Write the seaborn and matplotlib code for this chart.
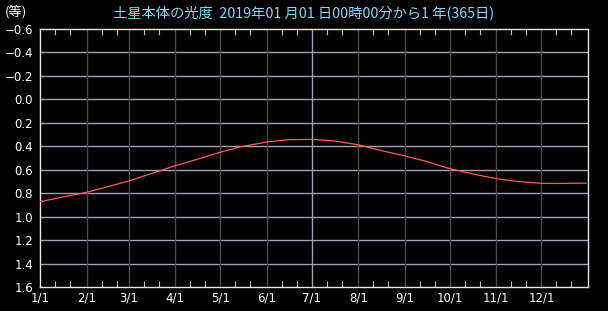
import matplotlib
matplotlib.use("Agg")
import matplotlib.pyplot as plt
import seaborn as sns
import pandas as pd
from matplotlib.ticker import FixedLocator

# data (date, magnitude)
dates = ["2019-01-01", "2019-01-15", "2019-02-01", "2019-02-15", "2019-03-01",
         "2019-03-15", "2019-04-01", "2019-04-15", "2019-05-01", "2019-05-15",
         "2019-06-01", "2019-06-15", "2019-07-01", "2019-07-15", "2019-08-01",
         "2019-08-15", "2019-09-01", "2019-09-15", "2019-10-01", "2019-10-15",
         "2019-11-01", "2019-11-15", "2019-12-01", "2019-12-15", "2019-12-31"]
magnitude = [0.873, 0.835, 0.793, 0.745, 0.696,
             0.638, 0.566, 0.514, 0.451, 0.403,
             0.364, 0.344, 0.341, 0.353, 0.387,
             0.432, 0.483, 0.528, 0.591, 0.632,
             0.677, 0.700, 0.716, 0.717, 0.714]
month_labels = ["1/1", "2/1", "3/1", "4/1", "5/1", "6/1",
                "7/1", "8/1", "9/1", "10/1", "11/1", "12/1"]
y_ticks = [-0.6, -0.4, -0.2, 0.0, 0.2, 0.4, 0.6, 0.8, 1.0, 1.2, 1.4, 1.6]

title = "土星本体の光度  2019年01 月01 日00時00分から1 年(365日)"
unit = "(等)"

sns.set_style("dark")
plt.rcParams['font.family'] = ['DejaVu Sans', 'Noto Sans CJK JP']

start = pd.Timestamp("2019-01-01")
df = pd.DataFrame({
    "day": [(pd.Timestamp(d) - start).days for d in dates],
    "mag": magnitude,
})
month_pos = [(pd.Timestamp(f"2019-{m:02d}-01") - start).days for m in range(1, 13)]
minor_pos = []
for p in month_pos:
    minor_pos += [p + 10, p + 20]

fig = plt.figure(figsize=(6.08, 3.11), dpi=100, facecolor="black")
ax = fig.add_axes([40 / 608, 1 - 287 / 311, 548 / 608, 258 / 311])
ax.set_facecolor("black")

# grid lines
for v in y_ticks[1:-1]:
    ax.axhline(v, color="#a8a0b0", lw=1.0, zorder=1)
for p, lab in zip(month_pos[1:], month_labels[1:]):
    col = "#a8a0b0" if lab == "7/1" else "#484848"
    ax.axvline(p, color=col, lw=1.0, zorder=1)

sns.lineplot(data=df, x="day", y="mag", ax=ax, color="#ff5a5a", lw=0.9, zorder=3)

ax.set_xlim(0, 365)
ax.set_ylim(1.6, -0.6)
ax.set_xticks(month_pos)
ax.set_xticklabels(month_labels)
ax.xaxis.set_minor_locator(FixedLocator(minor_pos))
ax.set_yticks(y_ticks)
ax.set_yticklabels([f"{v:.1f}".replace("-", "\u2212") for v in y_ticks])
ax.set_xlabel("")
ax.set_ylabel("")
ax.grid(False)

ax.tick_params(axis="x", which="major", length=0, pad=3, colors="white", labelsize=8.5)
ax.tick_params(axis="x", which="minor", length=4, direction="in", top=True,
               bottom=True, color="#c0c0c0", width=0.8)
ax.tick_params(axis="y", which="major", length=0, pad=5,
               colors="white", labelsize=8.5)
for s in ax.spines.values():
    s.set_color("#e8e8e8")
    s.set_linewidth(1.0)
    s.set_visible(True)

fig.text(304 / 608, 1 - 13 / 311, title, color="#80d8f0", fontsize=10.3,
         ha="center", va="center",
         family=['Noto Sans CJK JP', 'DejaVu Sans'])
fig.text(5 / 608, 1 - 12 / 311, unit, color="white", fontsize=9.5,
         ha="left", va="center",
         family=['Noto Sans CJK JP', 'DejaVu Sans'])

fig.savefig("out.png", dpi=100, facecolor="black")
